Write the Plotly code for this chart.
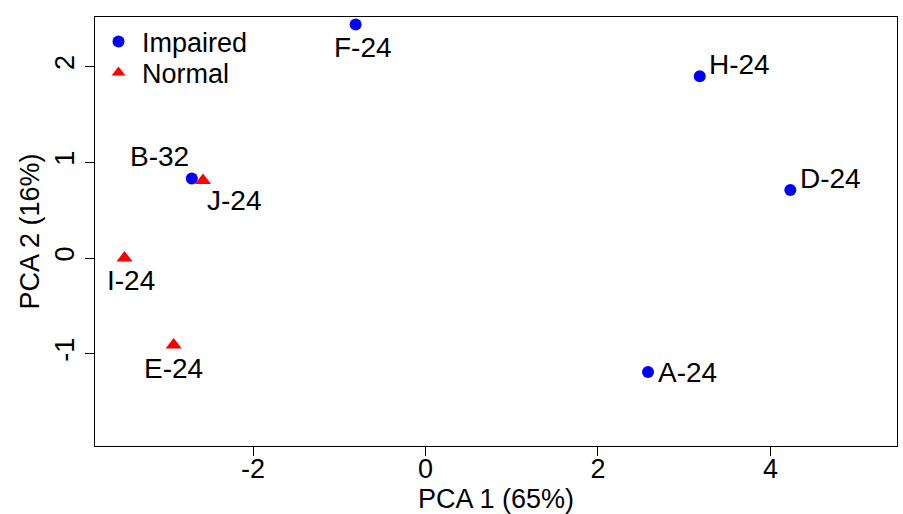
import plotly.graph_objects as go

# PCA scores per sample
samples = ["F-24", "H-24", "D-24", "A-24", "B-32", "J-24", "I-24", "E-24"]
pc1 = [-0.81, 3.18, 4.23, 2.58, -2.71, -2.58, -3.49, -2.92]
pc2 = [2.44, 1.90, 0.71, -1.19, 0.83, 0.81, 0.0, -0.91]
group = ["Impaired", "Impaired", "Impaired", "Impaired", "Impaired", "Normal", "Normal", "Normal"]

groups = ["Impaired", "Normal"]
x_ticks = [-2, 0, 2, 4]
x_tick_labels = ["-2", "0", "2", "4"]
y_ticks = [-1, 0, 1, 2]
y_tick_labels = ["-1", "0", "1", "2"]

# label placement: pixel offset of each label centre from its point
label_offset = {
    "F-24": (7, -23), "H-24": (40, 12), "D-24": (40, 12), "A-24": (39, -1),
    "B-32": (-32, 22), "J-24": (31, -20), "I-24": (6, -22), "E-24": (0, -23),
}
group_style = {
    "Impaired": dict(color="#0000FF", symbol="circle", size=12),
    "Normal": dict(color="#FF0000", symbol="triangle-up", size=14),
}
# one legend box per group, stacked in the top-left corner
legend_slot = {"Impaired": ("legend", 0.9417), "Normal": ("legend2", 0.8695)}

FONT = "Liberation Sans, Arial, sans-serif"
FS = 27
LABEL_FS = 28

fig = go.Figure()
for g in groups:
    xs = [x for x, gg in zip(pc1, group) if gg == g]
    ys = [y for y, gg in zip(pc2, group) if gg == g]
    st = group_style[g]
    fig.add_trace(go.Scatter(
        x=xs, y=ys, mode="markers", name=g, legend=legend_slot[g][0],
        marker=dict(color=st["color"], symbol=st["symbol"], size=st["size"],
                    line=dict(width=0)),
    ))

for s, x, y in zip(samples, pc1, pc2):
    dx, dy = label_offset[s]
    fig.add_annotation(x=x, y=y, text=s, showarrow=False, xanchor="center",
                       yanchor="middle", xshift=dx, yshift=dy,
                       font=dict(family=FONT, size=LABEL_FS, color="black"))

axis_common = dict(
    showgrid=False, zeroline=False, showline=True, linecolor="black",
    linewidth=1, mirror=True, ticks="outside", ticklen=9, tickwidth=1,
    tickcolor="black", tickfont=dict(family=FONT, size=FS, color="black"),
)

legend_common = dict(xanchor="left", yanchor="middle", bgcolor="rgba(0,0,0,0)",
                     borderwidth=0, font=dict(family=FONT, size=FS),
                     itemsizing="constant", itemwidth=37)

fig.update_layout(
    width=903, height=514,
    margin=dict(l=95, r=6, t=17, b=68),
    paper_bgcolor="white", plot_bgcolor="white",
    font=dict(family=FONT, size=FS, color="black"),
    xaxis=dict(range=[-3.832, 5.467], tickvals=x_ticks, ticktext=x_tick_labels,
               ticklabelstandoff=-10,
               title=dict(text="PCA 1 (65%)", standoff=0,
                          font=dict(family=FONT, size=FS)),
               automargin=False, **axis_common),
    yaxis=dict(range=[-1.964, 2.518], tickvals=y_ticks, ticktext=y_tick_labels,
               tickangle=-90,
               title=dict(text="PCA 2 (16%)", standoff=2,
                          font=dict(family=FONT, size=FS)),
               automargin=False, **axis_common),
    legend=dict(x=0.0, y=legend_slot["Impaired"][1], **legend_common),
    legend2=dict(x=0.0, y=legend_slot["Normal"][1], **legend_common),
    showlegend=True,
)

fig.write_html("out.html")
